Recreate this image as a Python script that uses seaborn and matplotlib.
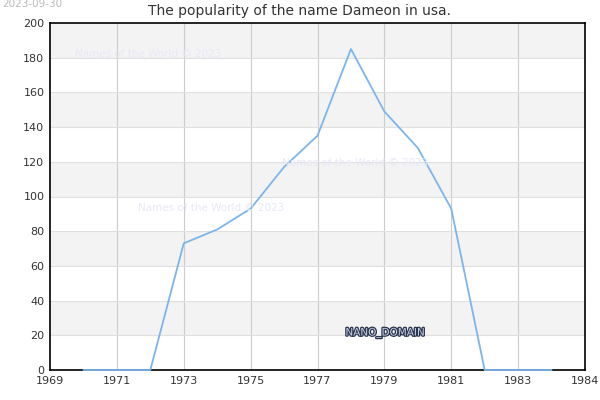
import matplotlib
matplotlib.use("Agg")
import matplotlib.pyplot as plt
import matplotlib.patheffects as pe
import seaborn as sns
import pandas as pd

years = [1970, 1971, 1972, 1973, 1974, 1975, 1976, 1977, 1978, 1979, 1980, 1981, 1982, 1983, 1984]
counts = [0, 0, 0, 73, 81, 93, 117, 135, 185, 149, 128, 93, 0, 0, 0]
xtick_pos = [1969, 1971, 1973, 1975, 1977, 1979, 1981, 1983, 1985]
xtick_labels = ["1969", "1971", "1973", "1975", "1977", "1979", "1981", "1983", "1984"]
yticks = [0, 20, 40, 60, 80, 100, 120, 140, 160, 180, 200]

sns.set_theme(style="white")
plt.rcParams['font.family'] = ['DejaVu Sans']

df = pd.DataFrame({"year": years, "count": counts})

fig = plt.figure(figsize=(6, 4), dpi=100)
ax = fig.add_axes([50/600, 30/400, 535/600, 347/400])

for i in range(len(yticks) - 1):
    if i % 2 == 1:
        ax.axhspan(yticks[i], yticks[i+1], color="#f3f3f3", zorder=0, lw=0)

sns.lineplot(data=df, x="year", y="count", ax=ax, color="#7cb5ec", lw=1.3, zorder=4)
for ln in ax.lines:
    ln.set_clip_on(False)

ax.set_xlim(1969, 1985)
ax.set_ylim(0, 200)
ax.set_xticks(xtick_pos)
ax.set_xticklabels(xtick_labels)
ax.set_yticks(yticks)
ax.tick_params(axis="both", labelsize=8, colors="#333333", length=0, pad=4)
ax.set_xlabel("")
ax.set_ylabel("")
for x in xtick_pos[1:-1]:
    ax.axvline(x, color="#cccccc", lw=0.8, zorder=1)
for y in yticks[1:-1]:
    ax.axhline(y, color="#e0e0e0", lw=0.8, zorder=1)
for s in ax.spines.values():
    s.set_color("black")
    s.set_linewidth(1.2)
    s.set_zorder(3)

fig.text(300/600, 1 - 11/400, "The popularity of the name Dameon in usa.", ha="center", va="center",
         fontsize=10, color="#333333")
fig.text(2/600, 1 - 4/400, "2023-09-30", ha="left", va="center", fontsize=7.5, color="#bbbbbb")

wm = "Names of the World © 2023"
for (px, py) in [(75, 54), (138, 208), (282, 163)]:
    fig.text(px/600, 1 - py/400, wm, ha="left", va="center", fontsize=7.5, color="#e8e8f8", zorder=5)

fig.text(385/600, 1 - 333/400, "NANO_DOMAIN", ha="center", va="center", fontsize=7.5,
         color="#c8d0e0",
         path_effects=[pe.withStroke(linewidth=1.8, foreground="#2a3550")])

fig.savefig("out.png", dpi=100)
